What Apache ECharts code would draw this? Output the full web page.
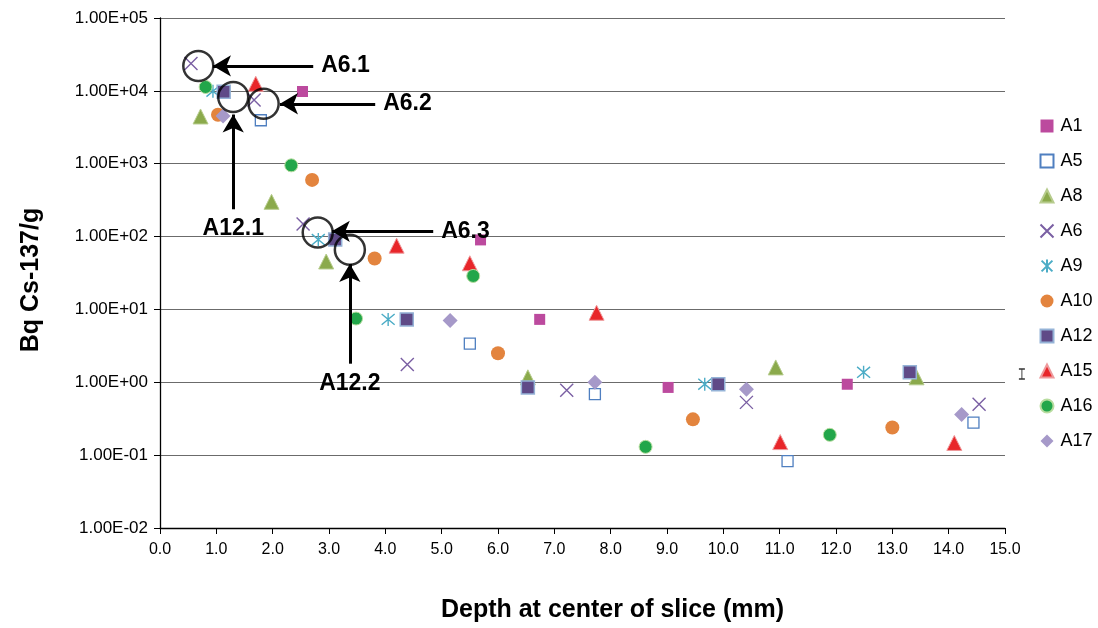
<!DOCTYPE html>
<html>
<head>
<meta charset="UTF-8">
<title>Cs-137 depth profile</title>
<script src="https://cdn.jsdelivr.net/npm/echarts@6/dist/echarts.min.js"></script>
<style>
  html, body { margin: 0; padding: 0; background: #fff; }
  #chart { width: 1098px; height: 628px; }
</style>
</head>
<body>
<div id="chart"></div>
<script>
// data: [depth mm, Bq/g]
var A1  = [[2.53, 9800], [5.69, 90], [6.74, 7.3], [9.02, 0.85], [12.2, 0.94]];
var A5  = [[1.79, 3950], [5.50, 3.4], [7.72, 0.69], [11.14, 0.083], [14.44, 0.28]];
var A8  = [[0.72, 4450], [1.98, 300], [2.95, 45.5], [6.53, 1.17], [10.93, 1.6], [13.43, 1.17]];
var A6  = [[0.55, 23700], [1.67, 7500], [2.54, 149], [4.39, 1.75], [7.22, 0.78], [10.41, 0.53], [14.54, 0.5]];
var A9  = [[0.94, 9900], [2.81, 91], [4.05, 7.3], [9.67, 0.94], [12.49, 1.37]];
var A10 = [[1.03, 4700], [2.70, 600], [3.81, 50], [6.00, 2.5], [9.46, 0.31], [13.0, 0.24]];
var A12 = [[1.13, 9700], [3.11, 91], [4.38, 7.3], [6.53, 0.85], [9.91, 0.94], [13.31, 1.37]];
var A15 = [[1.70, 12500], [4.20, 75], [5.50, 43], [7.75, 9.0], [11.01, 0.151], [14.1, 0.147]];
var A16 = [[0.81, 11300], [2.33, 950], [5.56, 28.8], [3.48, 7.5], [8.62, 0.13], [11.89, 0.19]];
var A17 = [[1.12, 4500], [5.15, 7.05], [7.72, 1.0], [10.41, 0.8], [14.23, 0.36]];

// the lone error-bar glyph right of the plot
var errMark = [[15.3, 1.3]];

var xTicks = ['0.0','1.0','2.0','3.0','4.0','5.0','6.0','7.0','8.0','9.0','10.0','11.0','12.0','13.0','14.0','15.0'];

// circled samples and arrows (data coordinates)
var circles = [[0.68, 22000], [1.30, 8250], [1.84, 6650], [2.80, 114], [3.37, 66]];
var arrows = [
  { name: 'A6.1',  from: [2.72, 22000], to: [0.94, 22000] },
  { name: 'A6.2',  from: [3.82, 6650],  to: [2.13, 6650] },
  { name: 'A12.1', from: [1.30, 237],   to: [1.30, 4730] },
  { name: 'A6.3',  from: [4.85, 118],   to: [3.05, 118] },
  { name: 'A12.2', from: [3.37, 1.8],   to: [3.37, 42] }
];

var chart = echarts.init(document.getElementById('chart'));

function sciLabel(v) {
  var e = Math.round(Math.log10(v));
  var s = String(Math.abs(e));
  if (s.length < 2) s = '0' + s;
  return '1.00E' + (e < 0 ? '-' : '+') + s;
}

function ser(name, data, symbol, size, color, border, bw) {
  return {
    name: name,
    type: 'scatter',
    data: data,
    symbol: symbol,
    symbolSize: size,
    itemStyle: { color: color, borderColor: border || color, borderWidth: bw || 0, opacity: 1 },
    emphasis: { disabled: true }
  };
}

var xPath = 'path://M0,0L10,10M10,0L0,10';
var starPath = 'path://M0,0L10,10M10,0L0,10M5,-1L5,11';

var series = [
  ser('A1', A1, 'rect', 11, '#BC4A9E'),
  ser('A5', A5, 'rect', 11, '#ffffff', '#4F7FC0', 1.3),
  ser('A8', A8, 'triangle', 15, '#8BAA4C', '#B7CC8E', 1),
  ser('A6', A6, xPath, 13, 'none', '#7A5FA3', 1.4),
  ser('A9', A9, starPath, 13, 'none', '#4BACC6', 1.4),
  ser('A10', A10, 'circle', 14, '#E3843E'),
  ser('A12', A12, 'rect', 13, '#5F4A87', '#95B3D7', 1.5),
  ser('A15', A15, 'triangle', 15, '#E8262A', '#EE9A9C', 1),
  ser('A16', A16, 'circle', 13, '#22A64A', '#B9DDA0', 1),
  ser('A17', A17, 'diamond', 15, '#A699C9')
];

series.push({
  name: 'err',
  type: 'scatter',
  data: errMark,
  symbol: 'path://M0,0L6,0M3,0L3,10M0,10L6,10',
  symbolSize: [6, 10],
  clip: false,
  silent: true,
  itemStyle: { color: 'none', borderColor: '#000', borderWidth: 1.2 }
});

series.push({
  name: 'annot',
  type: 'scatter',
  data: circles,
  symbol: 'circle',
  symbolSize: 30,
  z: 10,
  silent: true,
  itemStyle: { color: 'rgba(0,0,0,0)', borderColor: '#000', borderWidth: 2.5 },
  markLine: {
    silent: true,
    symbol: ['none', 'arrow'],
    symbolSize: [16, 18],
    lineStyle: { color: '#000', width: 3, type: 'solid' },
    label: {
      show: true,
      position: 'start',
      distance: 8,
      formatter: '{b}',
      color: '#000',
      fontFamily: 'Liberation Sans, Arial, sans-serif',
      fontWeight: 'bold',
      fontSize: 23
    },
    data: arrows.map(function (a) {
      return [{ name: a.name, coord: a.from }, { coord: a.to }];
    })
  }
});

var option = {
  animation: false,
  textStyle: { fontFamily: 'Liberation Sans, Arial, sans-serif' },
  grid: { left: 160, right: 93, top: 18, bottom: 98 },
  legend: {
    orient: 'vertical',
    left: 1033,
    top: 112,
    itemWidth: 13,
    itemHeight: 13,
    itemGap: 17,
    data: ['A1','A5','A8','A6','A9','A10','A12','A15','A16','A17'],
    textStyle: { fontSize: 18, color: '#000', padding: [0, 0, 0, 2] }
  },
  xAxis: {
    type: 'value',
    min: 0,
    max: 15,
    interval: 1,
    name: 'Depth at center of slice (mm)',
    nameLocation: 'middle',
    nameGap: 70,
    nameTextStyle: { fontSize: 25, fontWeight: 'bold', color: '#000', padding: [0, 0, 0, 60] },
    axisLine: { lineStyle: { color: '#000', width: 1.3 } },
    axisTick: { inside: false, length: 6, lineStyle: { color: '#000' } },
    axisLabel: {
      fontSize: 16, color: '#000', margin: 14,
      formatter: function (v) { return xTicks[Math.round(v)]; }
    },
    splitLine: { show: false }
  },
  yAxis: {
    type: 'log',
    logBase: 10,
    min: 0.01,
    max: 100000,
    name: 'Bq Cs-137/g',
    nameLocation: 'middle',
    nameGap: 116,
    nameTextStyle: { fontSize: 25, fontWeight: 'bold', color: '#000', padding: [0, 14, 0, 0] },
    axisLine: { show: true, lineStyle: { color: '#000', width: 1.3 } },
    axisTick: { show: true, inside: false, length: 6, lineStyle: { color: '#000' } },
    axisLabel: { fontSize: 17, color: '#000', margin: 12, formatter: sciLabel },
    splitLine: { show: true, lineStyle: { color: '#6b6b6b', width: 1.2 } },
    minorTick: { show: false }
  },
  series: series
};

chart.setOption(option);
</script>
</body>
</html>
